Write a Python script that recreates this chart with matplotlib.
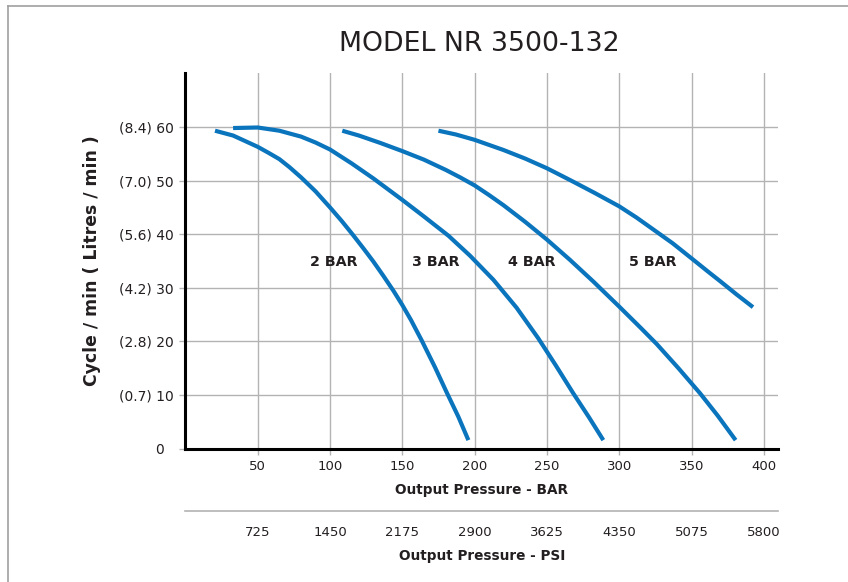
import matplotlib
matplotlib.use("Agg")
import matplotlib.pyplot as plt
import matplotlib.transforms as mtransforms
from matplotlib.lines import Line2D

# values (x = output pressure in BAR, y = cycle / min)
bar2_x = [20.5, 33, 50, 58, 65, 72, 80, 90, 100, 108, 115.5, 123, 130, 137, 144, 150, 156,
          163.4, 172.6, 180.7, 188.7, 195.7]
bar2_y = [59.3, 58.4, 56.3, 55.1, 54.0, 52.5, 50.6, 48.0, 45.0, 42.5, 40.0, 37.4, 34.9, 32.2,
          29.4, 26.8, 24.0, 20.2, 15.2, 10.5, 6.0, 1.6]
bar3_x = [33, 50, 65, 80, 90, 100, 115, 130, 150, 165, 182, 196.8, 213, 229, 244, 256, 268.3,
          279, 289]
bar3_y = [59.8, 59.9, 59.3, 58.2, 57.1, 55.8, 53.2, 50.4, 46.4, 43.3, 39.7, 36.0, 31.5, 26.3,
          20.6, 15.6, 10.3, 5.9, 1.6]
bar4_x = [108.5, 120, 135, 150, 165, 180, 190, 200, 210, 220, 235, 250, 266, 282, 300, 315,
          326, 341, 356, 368, 380.5]
bar4_y = [59.3, 58.4, 57.0, 55.5, 53.9, 52.0, 50.6, 49.1, 47.3, 45.4, 42.3, 39.0, 35.2, 31.2,
          26.5, 22.5, 19.5, 15.0, 10.3, 6.2, 1.6]
bar5_x = [175, 187, 200, 220, 235, 250, 266, 283, 300, 312, 324, 337, 350, 362, 370, 381,
          392.5]
bar5_y = [59.3, 58.6, 57.6, 55.7, 54.1, 52.3, 50.1, 47.7, 45.2, 43.1, 40.8, 38.3, 35.5, 32.9,
          31.2, 28.8, 26.4]

curve_labels = ["2 BAR", "3 BAR", "4 BAR", "5 BAR"]
label_x = [102.8, 172.9, 239.2, 323]
label_y = 34.9

bar_ticks = [50, 100, 150, 200, 250, 300, 350, 400]
psi_ticks = [725, 1450, 2175, 2900, 3625, 4350, 5075, 5800]
y_ticks = [0, 10, 20, 30, 40, 50, 60]
y_ticklabels = ["0", "(0.7) 10", "(2.8) 20", "(4.2) 30", "(5.6) 40", "(7.0) 50", "(8.4) 60"]

blue = "#0a74bd"
grid_c = "#b3b3b3"
txt_c = "#231f20"

plt.rcParams["font.family"] = ["DejaVu Sans"]

fig = plt.figure(figsize=(8.48, 5.82), dpi=100)
ax = fig.add_axes([0.2186, 0.229, 0.6992, 0.645])

for xs, ys in [(bar2_x, bar2_y), (bar3_x, bar3_y), (bar4_x, bar4_y), (bar5_x, bar5_y)]:
    ax.plot(xs, ys, color=blue, lw=3.0, solid_capstyle="butt", solid_joinstyle="round", zorder=3)

for lab, lx in zip(curve_labels, label_x):
    ax.text(lx, label_y, lab, ha="center", va="center", fontsize=10.3,
            fontweight="bold", color=txt_c, zorder=4)

ax.set_xlim(0, 410)
ax.set_ylim(0, 70)
ax.set_xticks(bar_ticks)
ax.set_yticks(y_ticks)
ax.set_yticklabels(y_ticklabels)
ax.grid(True, color=grid_c, lw=1.0)
ax.set_axisbelow(True)
for s in ["top", "right"]:
    ax.spines[s].set_visible(False)
for s in ["left", "bottom"]:
    ax.spines[s].set_linewidth(2.2)
    ax.spines[s].set_color("black")
ax.tick_params(axis="both", color=grid_c, width=1.0, length=4, labelcolor=txt_c)
ax.tick_params(axis="x", labelsize=9.5, pad=4)
ax.tick_params(axis="y", labelsize=10, pad=4.5)

# the zero label sits further left in the original
zero_lab = ax.get_yticklabels()[0]
zero_lab.set_transform(zero_lab.get_transform() +
                       mtransforms.ScaledTranslation(-10 / 100, 0, fig.dpi_scale_trans))

ax.set_xlabel("Output Pressure - BAR", fontsize=9.8, fontweight="bold", color=txt_c, labelpad=7)
ax.set_ylabel("Cycle / min ( Litres / min )", fontsize=12.4, fontweight="bold", color=txt_c)
ax.yaxis.set_label_coords(-0.143, 0.5)

sec = ax.secondary_xaxis(-0.166, functions=(lambda x: x * 14.5, lambda x: x / 14.5))
sec.set_xticks(psi_ticks)
sec.spines["bottom"].set_color(grid_c)
sec.spines["bottom"].set_linewidth(1.2)
sec.tick_params(axis="x", length=0, pad=11, labelsize=9.5, labelcolor=txt_c)
sec.set_xlabel("Output Pressure - PSI", fontsize=9.8, fontweight="bold", color=txt_c, labelpad=7)

fig.text(479 / 848, 1 - 44 / 582, "MODEL NR 3500-132", ha="center", va="center",
         fontsize=19.3, color=txt_c)

# frame around the chart (only top and left edges are in the picture)
fig.add_artist(Line2D([8 / 848, 8 / 848], [0, 1 - 6 / 582], color="#a0a0a0", lw=1.2,
                      transform=fig.transFigure))
fig.add_artist(Line2D([8 / 848, 1], [1 - 6 / 582, 1 - 6 / 582], color="#a0a0a0", lw=1.2,
                      transform=fig.transFigure))

fig.savefig("out.png", dpi=100)
